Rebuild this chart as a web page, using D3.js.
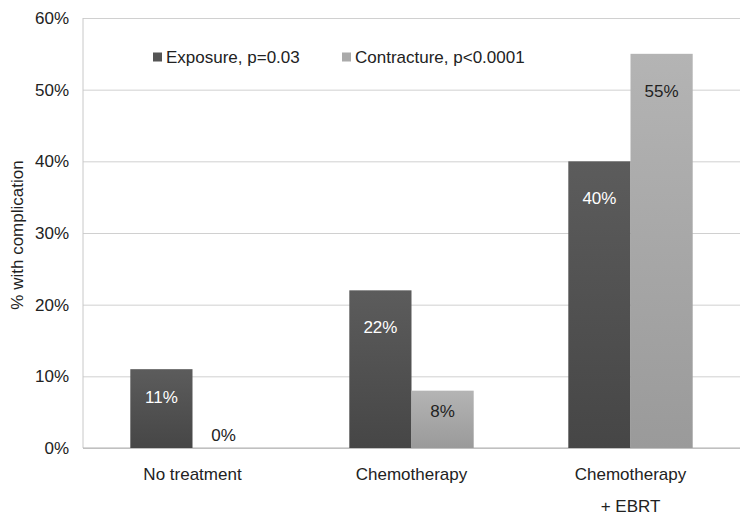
<!DOCTYPE html>
<html>
<head>
<meta charset="utf-8">
<script src="https://cdn.jsdelivr.net/npm/d3@7"></script>
<style>
  body { margin: 0; background: #fff; }
  svg text { font-family: "Liberation Sans", Arial, sans-serif; }
</style>
</head>
<body>
<svg width="751" height="524"></svg>
<script>
// data
const categories = ["No treatment", "Chemotherapy", "Chemotherapy\n+ EBRT"];
const seriesNames = ["Exposure, p=0.03", "Contracture, p<0.0001"];
const exposure = [11, 22, 40];
const contracture = [0, 8, 55];
const yTicks = [0, 10, 20, 30, 40, 50, 60];

const svg = d3.select('svg');
const margin = { top: 18, right: 11, bottom: 75, left: 83 };
const width = +svg.attr('width');
const height = +svg.attr('height');
const innerWidth = width - margin.left - margin.right;
const innerHeight = height - margin.top - margin.bottom - 1;
const fs = 17;

const rows = categories.map((c, i) => ({ cat: c, values: [exposure[i], contracture[i]] }));

const x = d3.scaleBand().domain(categories).range([0, innerWidth]).paddingInner(0.432).paddingOuter(0.216);
const xs = d3.scaleBand().domain([0, 1]).range([0, x.bandwidth()]);
const y = d3.scaleLinear().domain([0, 60]).range([innerHeight, 0]);

const defs = svg.append('defs');
const grads = [['#5c5c5c', '#464646'], ['#b4b4b4', '#9a9a9a']];
grads.forEach((c, i) => {
  const lg = defs.append('linearGradient').attr('id', 'g' + i)
    .attr('x1', 0).attr('y1', 0).attr('x2', 0).attr('y2', 1);
  lg.append('stop').attr('offset', '0%').attr('stop-color', c[0]);
  lg.append('stop').attr('offset', '100%').attr('stop-color', c[1]);
});
const swatch = ['#555', '#aaa'];

const g = svg.append('g').attr('transform', `translate(${margin.left},${margin.top})`);

// gridlines + y axis
const yAxis = d3.axisLeft(y).tickValues(yTicks).tickSize(-innerWidth).tickPadding(14)
  .tickFormat(d => d + '%');
g.append('g').attr('class', 'y-axis').call(yAxis)
  .call(a => a.select('.domain').remove())
  .call(a => a.selectAll('line').attr('stroke', '#d0d0d0'))
  .call(a => a.selectAll('text').attr('font-size', fs).attr('fill', '#222'));

g.append('line').attr('x1', 0).attr('x2', 0).attr('y1', 0).attr('y2', innerHeight)
  .attr('stroke', '#c8c8c8');
g.append('line').attr('x1', 0).attr('x2', innerWidth).attr('y1', innerHeight).attr('y2', innerHeight)
  .attr('stroke', '#b0b0b0');

// bars
const groups = g.selectAll('.cat').data(rows).enter().append('g')
  .attr('class', 'cat')
  .attr('transform', d => `translate(${x(d.cat)},0)`);

groups.selectAll('rect').data(d => d.values).enter().append('rect')
  .attr('x', (d, i) => xs(i))
  .attr('width', xs.bandwidth())
  .attr('y', d => y(d))
  .attr('height', d => innerHeight - y(d))
  .attr('fill', (d, i) => `url(#g${i})`);

groups.selectAll('.lbl').data(d => d.values).enter().append('text')
  .attr('class', 'lbl')
  .attr('x', (d, i) => xs(i) + xs.bandwidth() / 2)
  .attr('y', d => {
    const h = innerHeight - y(d);
    if (h < 1) return innerHeight - 13;
    return y(d) + Math.min(37, h * 0.35);
  })
  .attr('dy', '0.35em')
  .attr('text-anchor', 'middle')
  .attr('font-size', fs)
  .attr('fill', (d, i) => i === 0 ? '#fff' : '#222')
  .text(d => d + '%');

// category labels
const xl = g.selectAll('.xl').data(categories).enter().append('text')
  .attr('class', 'xl')
  .attr('x', d => x(d) + x.bandwidth() / 2)
  .attr('y', innerHeight + 26)
  .attr('text-anchor', 'middle')
  .attr('font-size', fs)
  .attr('fill', '#222');
xl.selectAll('tspan').data(d => d.split('\n')).enter().append('tspan')
  .attr('x', function () { return d3.select(this.parentNode).attr('x'); })
  .attr('dy', (d, i) => i === 0 ? '0.35em' : 32)
  .text(d => d);

// y title
svg.append('text')
  .attr('transform', `translate(23,${margin.top + innerHeight / 2 + 2}) rotate(-90)`)
  .attr('text-anchor', 'middle')
  .attr('font-size', fs)
  .attr('fill', '#222')
  .text('% with complication');

// legend
const legendX = [153, 342];
const lg = svg.selectAll('.leg').data(seriesNames).enter().append('g')
  .attr('class', 'leg')
  .attr('transform', (d, i) => `translate(${legendX[i]},57)`);
lg.append('rect').attr('x', 0).attr('y', -4.5).attr('width', 9).attr('height', 9)
  .attr('fill', (d, i) => swatch[i]);
lg.append('text').attr('x', 13).attr('dy', '0.35em')
  .attr('font-size', fs).attr('fill', '#222').text(d => d);
</script>
</body>
</html>
